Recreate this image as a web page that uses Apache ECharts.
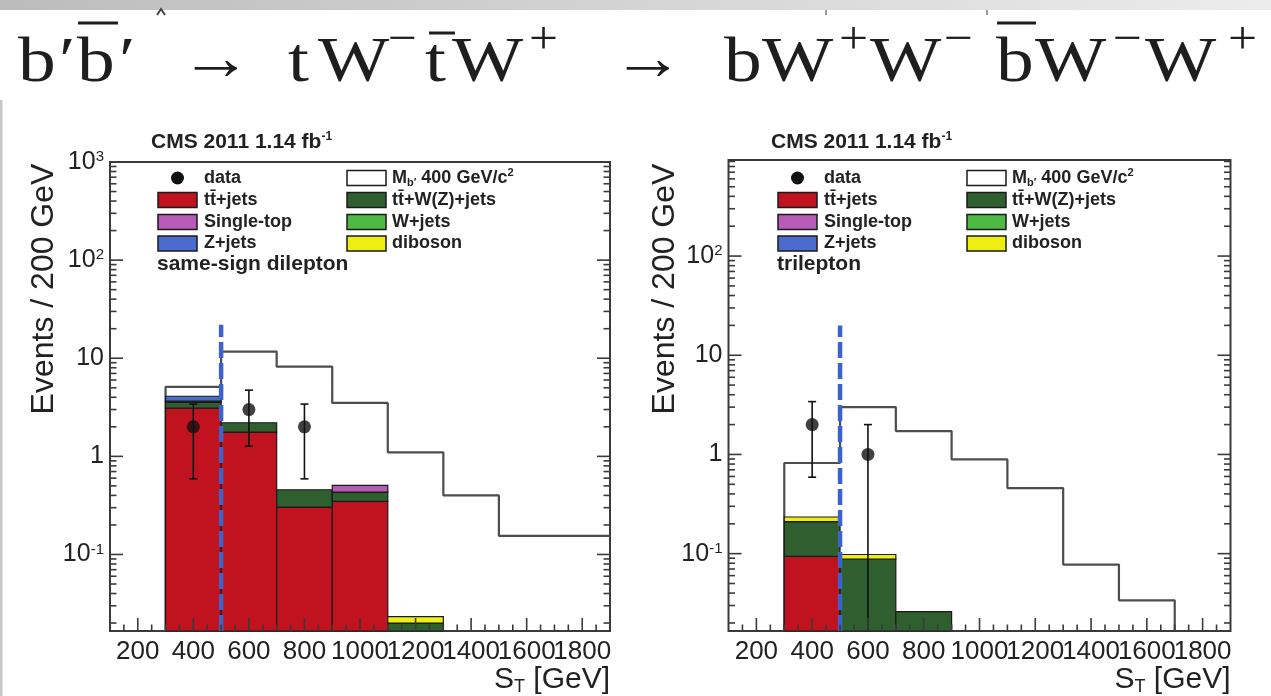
<!DOCTYPE html>
<html>
<head>
<meta charset="utf-8">
<script src="https://cdn.jsdelivr.net/npm/echarts@6/dist/echarts.min.js"></script>
<style>
  html, body { margin: 0; padding: 0; background: #ffffff; }
  #main { width: 1271px; height: 696px; }
</style>
</head>
<body>
<div id="main"></div>
<script>
// ---- S_T histogram binning (GeV) ----
const binLow = [300, 500, 700, 900, 1100, 1300, 1500, 1700];
const binWidth = 200;
const xTickLabels = [200, 400, 600, 800, 1000, 1200, 1400, 1600, 1800];

// ---- same-sign dilepton channel (events / 200 GeV) ----
const ssTTjets    = [3.10, 1.77, 0.304, 0.348, 0, 0, 0, 0];
const ssTTV       = [0.45, 0.43, 0.153, 0.084, 0.020, 0, 0, 0];
const ssWjets     = [0, 0, 0, 0, 0, 0, 0, 0];
const ssDiboson   = [0, 0, 0, 0, 0.0033, 0, 0, 0];
const ssSingleTop = [0.10, 0, 0, 0.074, 0, 0, 0, 0];
const ssZjets     = [0.45, 0, 0, 0, 0, 0, 0, 0];
const ssSignal    = [5.1, 11.7, 8.2, 3.5, 1.1, 0.40, 0.155, 0.155];   // M_b' = 400 GeV/c^2 outline
const ssData      = [2, 3, 2, 0, 0, 0, 0, 0];
const ssDataErr   = [1.41, 1.73, 1.41, 0, 0, 0, 0, 0];
const ssCutTop    = 22;

// ---- trilepton channel (events / 200 GeV) ----
const tlTTjets    = [0.094, 0, 0, 0, 0, 0, 0, 0];
const tlTTV       = [0.116, 0.088, 0.026, 0, 0, 0, 0, 0];
const tlWjets     = [0, 0, 0, 0, 0, 0, 0, 0];
const tlDiboson   = [0.024, 0.010, 0, 0, 0, 0, 0, 0];
const tlSingleTop = [0, 0, 0, 0, 0, 0, 0, 0];
const tlZjets     = [0, 0, 0, 0, 0, 0, 0, 0];
const tlSignal    = [0.82, 3.0, 1.72, 0.89, 0.458, 0.0775, 0.0338, 0];
const tlData      = [2, 1, 0, 0, 0, 0, 0, 0];
const tlDataErr   = [1.41, 1.0, 0, 0, 0, 0, 0, 0];
const tlCutTop    = 20;

// ---- styling ----
const xMin = 100, xMax = 1900, yMin = 0.0166;
const SANS = 'Liberation Sans, Arial, sans-serif';
const SERIF = 'Liberation Serif, DejaVu Serif, serif';
const INK = '#222222';
const FRAME = '#3a3a3a';
const colors = {
  ttjets: '#c1121f', ttV: '#2f5f2e', wjets: '#4fb946',
  diboson: '#eeee10', singleTop: '#b65cb8', zjets: '#4a6ccc'
};

const panels = [
  {
    grid: { left: 110, top: 162, width: 500, height: 469 }, yMax: 1000, legendX: 110,
    titleX: 44, channel: 'same-sign dilepton', cutTop: ssCutTop,
    layers: [
      { c: colors.ttjets, v: ssTTjets }, { c: colors.ttV, v: ssTTV }, { c: colors.wjets, v: ssWjets },
      { c: colors.diboson, v: ssDiboson }, { c: colors.singleTop, v: ssSingleTop }, { c: colors.zjets, v: ssZjets }
    ],
    signal: ssSignal, data: ssData, err: ssDataErr
  },
  {
    grid: { left: 728.5, top: 160, width: 502, height: 471 }, yMax: 930, legendX: 730,
    titleX: 665, channel: 'trilepton', cutTop: tlCutTop,
    layers: [
      { c: colors.ttjets, v: tlTTjets }, { c: colors.ttV, v: tlTTV }, { c: colors.wjets, v: tlWjets },
      { c: colors.diboson, v: tlDiboson }, { c: colors.singleTop, v: tlSingleTop }, { c: colors.zjets, v: tlZjets }
    ],
    signal: tlSignal, data: tlData, err: tlDataErr
  }
];

// stacked rectangles: [lo, hi, base, top, layerIndex]
function stackItems(layers) {
  const items = [];
  const cum = binLow.map(() => 0);
  layers.forEach((layer, li) => {
    layer.v.forEach((v, i) => {
      if (v > 0) items.push([binLow[i], binLow[i] + binWidth, cum[i] > 0 ? cum[i] : yMin, cum[i] + v, li]);
      cum[i] += v;
    });
  });
  return items;
}

// outline of the signal histogram as a step path
function outline(values) {
  const pts = [[binLow[0], yMin]];
  let last = binLow[0];
  values.forEach((v, i) => {
    if (v > 0) {
      pts.push([binLow[i], v], [binLow[i] + binWidth, v]);
      last = binLow[i] + binWidth;
    }
  });
  if (last < xMax) pts.push([last, yMin]);
  return pts;
}

function logLabel(v) {
  const e = Math.round(Math.log10(v));
  if (Math.abs(Math.log10(v) - e) > 1e-6) return '';
  if (e === 0) return '{b|1}';
  if (e === 1) return '{b|10}';
  return '{b|10}{s|' + (e < 0 ? '-' : '') + Math.abs(e) + '}';
}

function tickRenderer(yMax) {
  return function (params, api) {
    const children = [];
    const bl = api.coord([xMin, yMin]);
    const tr = api.coord([xMax, yMax]);
    const L = bl[0], R = tr[0], B = bl[1];
    const st = { stroke: FRAME, lineWidth: 1.6 };
    for (let d = -2; d <= 3; d++) {
      for (let m = 1; m <= 9; m++) {
        const v = m * Math.pow(10, d);
        if (v < yMin || v > yMax) continue;
        const y = api.coord([xMin, v])[1];
        const len = m === 1 ? 13 : 6.5;
        children.push({ type: 'line', shape: { x1: L, y1: y, x2: L + len, y2: y }, style: st });
        children.push({ type: 'line', shape: { x1: R, y1: y, x2: R - len, y2: y }, style: st });
      }
    }
    for (let x = xMin + 50; x < xMax; x += 50) {
      const px = api.coord([x, yMin])[0];
      const len = x % 200 === 0 ? 13 : 6.5;
      children.push({ type: 'line', shape: { x1: px, y1: B, x2: px, y2: B - len }, style: st });
    }
    return { type: 'group', children };
  };
}

function errRenderer(params, api) {
  const x = api.value(0), y = api.value(1), e = api.value(2);
  const lo = Math.max(y - e, yMin), hi = y + e;
  const pt = api.coord([x, hi]);
  const pb = api.coord([x, lo]);
  const st = { stroke: '#111111', lineWidth: 1.6 };
  const children = [
    { type: 'line', shape: { x1: pt[0], y1: pt[1], x2: pb[0], y2: pb[1] }, style: st },
    { type: 'line', shape: { x1: pt[0] - 4, y1: pt[1], x2: pt[0] + 4, y2: pt[1] }, style: st }
  ];
  if (y - e > yMin) {
    children.push({ type: 'line', shape: { x1: pb[0] - 4, y1: pb[1], x2: pb[0] + 4, y2: pb[1] }, style: st });
  }
  return { type: 'group', children };
}

const grids = [], xAxes = [], yAxes = [], series = [];

panels.forEach((p, i) => {
  grids.push(Object.assign({ show: true, borderColor: FRAME, borderWidth: 2, backgroundColor: 'transparent',
    outerBoundsMode: 'none', containLabel: false }, p.grid));

  xAxes.push({
    type: 'value', gridIndex: i, min: xMin, max: xMax, interval: 100, z: 10,
    axisLine: { show: false }, axisTick: { show: false }, splitLine: { show: false },
    axisLabel: {
      hideOverlap: false, margin: 8, fontSize: 26, fontFamily: SANS, color: INK,
      formatter: v => (xTickLabels.indexOf(v) >= 0 ? String(v) : '')
    }
  });

  yAxes.push({
    type: 'log', logBase: 10, gridIndex: i, min: yMin, max: p.yMax, z: 10,
    axisLine: { show: false }, axisTick: { show: false }, splitLine: { show: false },
    axisLabel: {
      hideOverlap: false, margin: 6, formatter: logLabel,
      rich: {
        b: { fontSize: 25, fontFamily: SANS, color: INK, lineHeight: 25 },
        s: { fontSize: 15, fontFamily: SANS, color: INK, lineHeight: 15, verticalAlign: 'top' }
      }
    }
  });

  // signal outline (behind the stack)
  series.push({
    type: 'line', xAxisIndex: i, yAxisIndex: i, z: 1, data: outline(p.signal),
    symbol: 'none', silent: true, animation: false,
    lineStyle: { color: '#4d4d4d', width: 2.2 }
  });

  // background stack
  series.push({
    type: 'custom', xAxisIndex: i, yAxisIndex: i, z: 2, silent: true, animation: false,
    data: stackItems(p.layers),
    encode: { x: [0, 1], y: [2, 3] },
    renderItem: (params, api) => {
      const p0 = api.coord([api.value(0), api.value(3)]);
      const p1 = api.coord([api.value(1), api.value(2)]);
      return {
        type: 'rect',
        shape: { x: p0[0], y: p0[1], width: p1[0] - p0[0], height: p1[1] - p0[1] },
        style: { fill: p.layers[api.value(4)].c, stroke: '#1a1a1a', lineWidth: 1.2 }
      };
    }
  });

  // selection cut line
  series.push({
    type: 'line', xAxisIndex: i, yAxisIndex: i, z: 3, symbol: 'none', silent: true, animation: false,
    data: [[500, yMin], [500, p.cutTop]],
    lineStyle: { color: '#3b63c9', width: 4.5, type: [16, 5] }
  });

  // data with error bars
  const pts = [];
  p.data.forEach((n, k) => { if (n > 0) pts.push([binLow[k] + binWidth / 2, n, p.err[k]]); });
  series.push({
    type: 'custom', xAxisIndex: i, yAxisIndex: i, z: 4, silent: true, animation: false,
    data: pts, encode: { x: 0, y: 1 }, renderItem: errRenderer
  });
  series.push({
    type: 'scatter', xAxisIndex: i, yAxisIndex: i, z: 5, silent: true, animation: false,
    data: pts.map(d => [d[0], d[1]]), symbol: 'circle', symbolSize: 13,
    itemStyle: { color: '#111111' }
  });

  // frame ticks
  series.push({
    type: 'custom', xAxisIndex: i, yAxisIndex: i, z: 6, silent: true, animation: false,
    data: [[xMin, yMin]], encode: { x: 0, y: 1 }, renderItem: tickRenderer(p.yMax)
  });
});

// ---- text and legend graphics ----
const graphics = [];

// text anchored at (x, y); scaling happens around that anchor
function txt(text, x, y, opts, sx) {
  return {
    type: 'text', z: 100, silent: true, x, y, scaleX: sx || 1,
    style: Object.assign({
      text, x: 0, y: 0, fill: INK, align: 'left', verticalAlign: 'middle',
      textAlign: 'left', textVerticalAlign: 'middle'
    }, opts || {})
  };
}

// page header strip and slide edge
graphics.push({ type: 'rect', z: 0, silent: true, shape: { x: 0, y: 0, width: 1271, height: 10 },
  style: { fill: { type: 'linear', x: 0, y: 0, x2: 1, y2: 0,
    colorStops: [{ offset: 0, color: '#bcbcbc' }, { offset: 1, color: '#ececec' }] } } });
graphics.push({ type: 'rect', z: 0, silent: true, shape: { x: 0, y: 100, width: 2.5, height: 596 },
  style: { fill: '#c8c8c8' } });
graphics.push({ type: 'polyline', z: 0, silent: true, shape: { points: [[157, 15], [161, 9], [165, 15]] },
  style: { stroke: '#444', lineWidth: 2, fill: null } });
[826, 987].forEach(x => graphics.push({ type: 'line', z: 0, silent: true,
  shape: { x1: x, y1: 10, x2: x, y2: 15 }, style: { stroke: '#777', lineWidth: 1.5 } }));

// decay chain heading
const HEAD = '#1e1e1e';
const mainFont = { font: '64px ' + SERIF, fill: HEAD };
const supFont = { font: '46px ' + SERIF, fill: HEAD };
const arrowFont = { font: '64px ' + SERIF, fill: HEAD };
const MAIN_Y = 64, SUP_Y = 41, ARROW_Y = 62;
[['b', 18], ['\u2032', 59], ['b', 77], ['\u2032', 119],
 ['t', 288], ['W', 318], ['t', 425], ['W', 452],
 ['b', 724], ['W', 762], ['W', 870], ['b', 996], ['W', 1035], ['W', 1145]]
  .forEach(([t, x]) => graphics.push(txt(t, x, MAIN_Y, mainFont, 1.18)));
[['\u2192', 180], ['\u2192', 612]].forEach(([t, x]) => graphics.push(txt(t, x, ARROW_Y, arrowFont, 1.12)));
[['\u2212', 388], ['+', 529], ['+', 839], ['\u2212', 944], ['\u2212', 1113], ['+', 1228]]
  .forEach(([t, x]) => graphics.push(txt(t, x, SUP_Y, supFont, 1.12)));
[[78, 118, 23], [429, 455, 33], [997, 1036, 23]].forEach(([x1, x2, y]) =>
  graphics.push({ type: 'line', z: 100, silent: true, shape: { x1, y1: y, x2, y2: y },
    style: { stroke: HEAD, lineWidth: 3 } }));

// per-panel annotations
const legFont = { font: 'bold 18px ' + SANS };
panels.forEach((p, i) => {
  const ox = p.legendX;
  const g = p.grid;
  // experiment / luminosity label
  graphics.push(txt('{m|CMS 2011 1.14 fb}{u|-1}', ox + 41, 142, {
    rich: {
      m: { fontSize: 21, fontWeight: 'bold', fontFamily: SANS, fill: INK, lineHeight: 22 },
      u: { fontSize: 12, fontWeight: 'bold', fontFamily: SANS, fill: INK, lineHeight: 12, verticalAlign: 'top' }
    }
  }));
  // axis titles
  graphics.push({ type: 'text', z: 100, silent: true, x: p.titleX, y: 289, rotation: Math.PI / 2,
    style: { text: 'Events / 200 GeV', x: 0, y: 0, font: '32px ' + SANS, fill: INK,
      align: 'center', verticalAlign: 'middle', textAlign: 'center', textVerticalAlign: 'middle' } });
  graphics.push(txt('{a|S}{t|T}{a| [GeV]}', g.left + g.width, 680, {
    align: 'right', textAlign: 'right',
    rich: {
      a: { fontSize: 30, fontFamily: SANS, fill: INK, lineHeight: 32 },
      t: { fontSize: 18, fontFamily: SANS, fill: INK, lineHeight: 18, verticalAlign: 'bottom' }
    }
  }));

  // legend
  const rows = [178, 200, 222, 243.5];
  const boxW = 39, boxH = 15;
  const box = (x, y, fill) => graphics.push({ type: 'rect', z: 100, silent: true,
    shape: { x, y: y - boxH / 2, width: boxW, height: boxH },
    style: { fill, stroke: '#1a1a1a', lineWidth: 1.5 } });
  graphics.push({ type: 'circle', z: 100, silent: true, shape: { cx: ox + 67.5, cy: rows[0], r: 6.5 },
    style: { fill: '#111111' } });
  graphics.push(txt('data', ox + 94, rows[0], legFont));
  box(ox + 48, rows[1], colors.ttjets);     graphics.push(txt('tt\u0304+jets', ox + 94, rows[1], legFont));
  box(ox + 48, rows[2], colors.singleTop);  graphics.push(txt('Single-top', ox + 94, rows[2], legFont));
  box(ox + 48, rows[3], colors.zjets);      graphics.push(txt('Z+jets', ox + 94, rows[3], legFont));
  box(ox + 237, rows[0], '#ffffff');
  graphics.push(txt('{t|M}{d|b\u2032}{t| 400 GeV/c}{u|2}', ox + 282, rows[0], {
    rich: {
      t: { fontSize: 18, fontWeight: 'bold', fontFamily: SANS, fill: INK, lineHeight: 21 },
      d: { fontSize: 11, fontWeight: 'bold', fontFamily: SANS, fill: INK, lineHeight: 11, verticalAlign: 'bottom' },
      u: { fontSize: 11, fontWeight: 'bold', fontFamily: SANS, fill: INK, lineHeight: 11, verticalAlign: 'top' }
    }
  }));
  box(ox + 237, rows[1], colors.ttV);       graphics.push(txt('tt\u0304+W(Z)+jets', ox + 282, rows[1], legFont));
  box(ox + 237, rows[2], colors.wjets);     graphics.push(txt('W+jets', ox + 282, rows[2], legFont));
  box(ox + 237, rows[3], colors.diboson);   graphics.push(txt('diboson', ox + 282, rows[3], legFont));
  graphics.push(txt(p.channel, ox + 47, 264, { font: 'bold 21px ' + SANS }));
});

const chart = echarts.init(document.getElementById('main'), null, { renderer: 'canvas' });
chart.setOption({
  animation: false,
  backgroundColor: '#ffffff',
  grid: grids,
  xAxis: xAxes,
  yAxis: yAxes,
  series: series,
  graphic: { elements: graphics }
});
</script>
</body>
</html>
